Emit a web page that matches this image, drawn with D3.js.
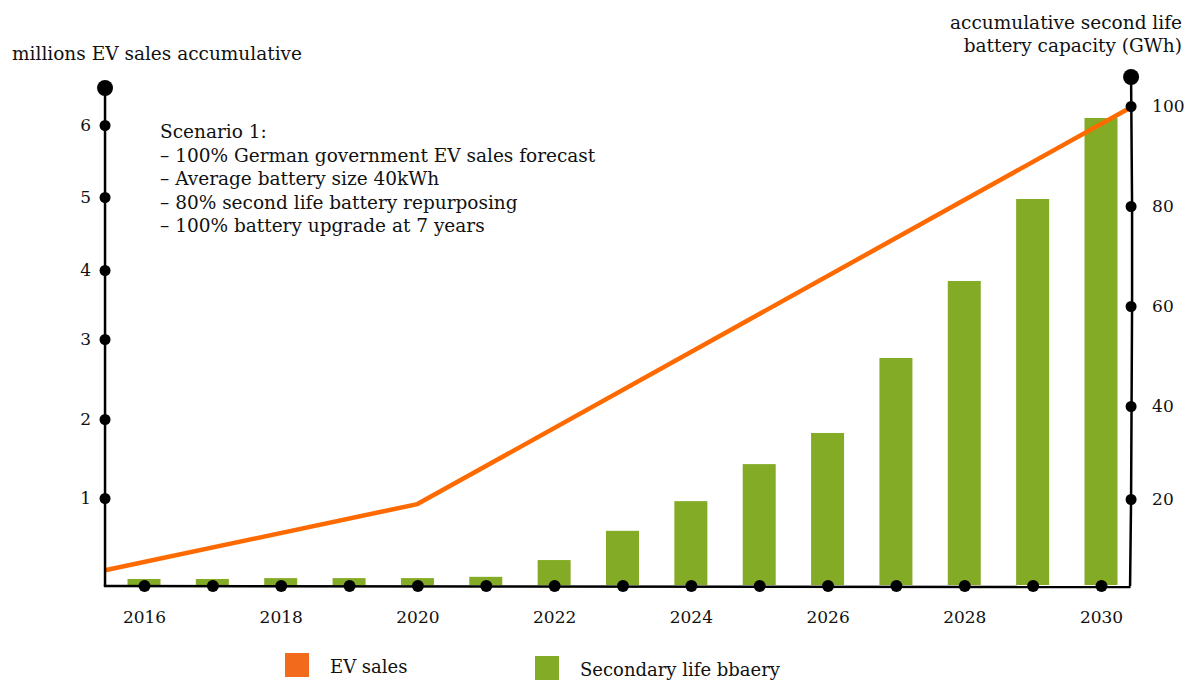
<!DOCTYPE html>
<html>
<head>
<meta charset="utf-8">
<script src="https://cdn.jsdelivr.net/npm/d3@7"></script>
<style>
  body { margin: 0; background: #fff; }
  text { font-family: "DejaVu Serif", "Liberation Serif", serif; fill: #111; }
</style>
</head>
<body>
<svg id="chart" width="1195" height="680"></svg>
<script>
// ---- data ----
const years = [2016, 2017, 2018, 2019, 2020, 2021, 2022, 2023, 2024, 2025, 2026, 2027, 2028, 2029, 2030];
const batteryGWh = [1.4, 1.4, 1.6, 1.6, 1.6, 1.9, 5.8, 12.6, 19.5, 27.5, 34.2, 49.6, 65.0, 81.4, 97.6];
const evYears = [2015.43, 2020, 2030.44];
const evSalesMillions = [0.17, 0.93, 6.24];
const leftTicks = [1, 2, 3, 4, 5, 6];
const rightTicks = [20, 40, 60, 80, 100];
const yearLabels = [2016, 2018, 2020, 2022, 2024, 2026, 2028, 2030];
const scenarioLines = [
  "Scenario 1:",
  "– 100% German government EV sales forecast",
  "– Average battery size 40kWh",
  "– 80% second life battery repurposing",
  "– 100% battery upgrade at 7 years"
];
const legendItems = ["EV sales", "Secondary life bbaery"];

// ---- styling ----
const ORANGE = "#ff6a00";
const ORANGE_KEY = "#f26b1d";
const GREEN = "#84ab26";
const INK = "#000";
const TEXT = "#111";

const svg = d3.select("#chart");

// hand-spaced axes: each scale follows the drawn tick positions
const x = d3.scaleLinear().domain([2016, 2030]).range([144, 1101]);
const yLeft = d3.scaleLinear()
  .domain([0, 1, 2, 3, 4, 5, 6, 6.5])
  .range([585, 498, 419, 339, 270, 197, 125, 88]);
const yRight = d3.scaleLinear()
  .domain([0, 20, 40, 60, 80, 100, 105.5])
  .range([585, 499, 406, 306, 206, 106, 77]);

const xStart = 2015.43, xEnd = 2030.44;
const leftX = x(xStart), rightX = x(xEnd);
const barW = 33;

// ---- bars: second life battery capacity ----
svg.append("g").selectAll("rect")
  .data(years.map((y, i) => ({ year: y, v: batteryGWh[i] })))
  .join("rect")
  .attr("x", d => x(d.year) - barW / 2)
  .attr("width", barW)
  .attr("y", d => yRight(d.v))
  .attr("height", d => yRight(0) - yRight(d.v))
  .attr("fill", GREEN);

// ---- EV sales line ----
const line = d3.line().x(d => x(d[0])).y(d => yLeft(d[1]));
svg.append("path")
  .datum(evYears.map((y, i) => [y, evSalesMillions[i]]))
  .attr("d", line)
  .attr("fill", "none")
  .attr("stroke", ORANGE)
  .attr("stroke-width", 4.5)
  .attr("stroke-linejoin", "round");

const styleTicks = g => g.selectAll(".tick text")
  .attr("font-size", 17).attr("font-family", "DejaVu Serif").attr("fill", TEXT);

// ---- left axis ----
const gLeft = svg.append("g")
  .attr("transform", `translate(${leftX},0)`)
  .call(d3.axisLeft(yLeft).tickValues(leftTicks).tickSize(0).tickSizeOuter(0).tickPadding(14).tickFormat(d3.format("d")));
gLeft.select(".domain").attr("stroke", INK).attr("stroke-width", 2.5)
  .attr("d", `M0,${yLeft(0) + 1}V${yLeft(6.5)}`);
styleTicks(gLeft);
gLeft.selectAll(".tick").append("circle").attr("r", 5.5).attr("fill", INK);
gLeft.append("circle").attr("cy", yLeft(6.5)).attr("r", 8).attr("fill", INK);

// ---- right axis ----
const gRight = svg.append("g")
  .attr("transform", `translate(${rightX},0)`)
  .call(d3.axisRight(yRight).tickValues(rightTicks).tickSize(0).tickSizeOuter(0).tickPadding(21).tickFormat(d3.format("d")));
gRight.select(".domain").attr("stroke", INK).attr("stroke-width", 2.5)
  .attr("d", `M-1,${yRight(0) + 1}L0,${yRight(20)}L1,${yRight(60)}L1,${yRight(80)}L0,${yRight(105.5)}`)
  .attr("fill", "none");
styleTicks(gRight);
gRight.selectAll(".tick").append("circle").attr("r", 5.5).attr("fill", INK);
gRight.append("circle").attr("cy", yRight(105.5)).attr("r", 8).attr("fill", INK);

// ---- bottom axis ----
const baseY = 586;
svg.append("line")
  .attr("x1", leftX - 1.2).attr("x2", rightX - 0.5)
  .attr("y1", baseY).attr("y2", baseY + 1)
  .attr("stroke", INK).attr("stroke-width", 2.5);
const gBottom = svg.append("g")
  .attr("transform", `translate(0,${baseY})`)
  .call(d3.axisBottom(x).tickValues(years).tickSize(0).tickPadding(25)
    .tickFormat(d => yearLabels.includes(d) ? String(d) : ""));
gBottom.select(".domain").remove();
styleTicks(gBottom);
gBottom.selectAll(".tick").append("circle").attr("r", 6).attr("fill", INK);

// ---- axis titles ----
svg.append("text").attr("x", 12).attr("y", 60).attr("font-size", 18.5)
  .text("millions EV sales accumulative");
const rt = svg.append("text").attr("text-anchor", "end").attr("font-size", 18.5);
rt.append("tspan").attr("x", 1182).attr("y", 29).text("accumulative second life");
rt.append("tspan").attr("x", 1182).attr("y", 52).text("battery capacity (GWh)");

// ---- scenario note ----
svg.append("g").selectAll("text")
  .data(scenarioLines)
  .join("text")
  .attr("x", 160)
  .attr("y", (d, i) => 138 + i * 23.5)
  .attr("font-size", 18.5)
  .text(d => d);

// ---- legend ----
const legend = svg.append("g");
const keyPos = [{ x: 285, y: 653, c: ORANGE_KEY }, { x: 535, y: 656, c: GREEN }];
legendItems.forEach((name, i) => {
  const k = keyPos[i];
  legend.append("rect").attr("x", k.x).attr("y", k.y).attr("width", 24).attr("height", 24).attr("fill", k.c);
  legend.append("text").attr("x", k.x + 45).attr("y", k.y + 20).attr("font-size", 18).text(name);
});
</script>
</body>
</html>
